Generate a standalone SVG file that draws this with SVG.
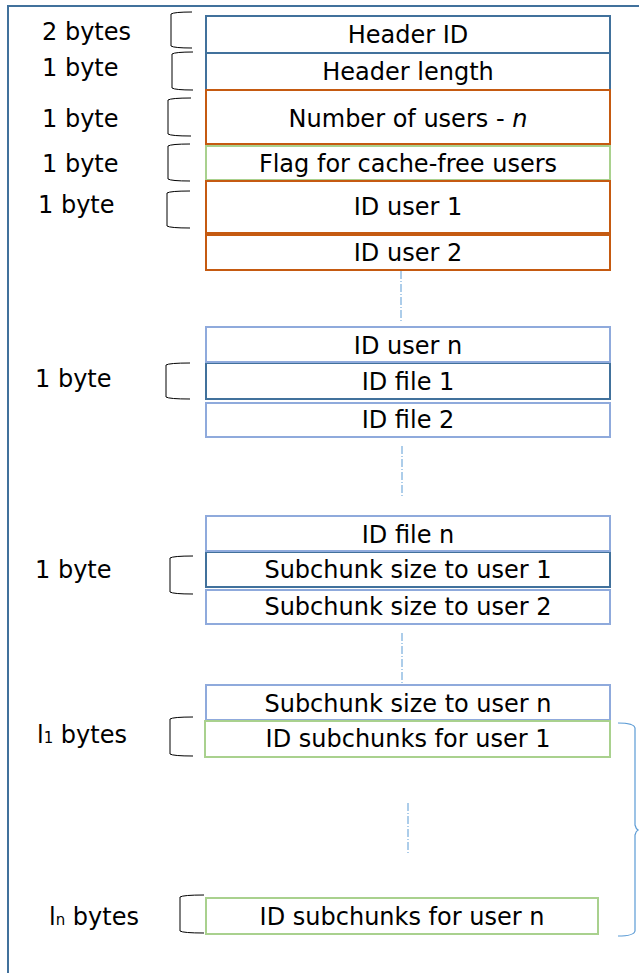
<svg xmlns="http://www.w3.org/2000/svg" width="639" height="973" viewBox="0 0 639 973">
<style>
text{font-family:"DejaVu Sans","Liberation Sans",sans-serif;font-size:24px;fill:#000}
.c{text-anchor:middle}
.box{fill:#fff;stroke-width:2}
.dk{stroke:#41719C}
.or{stroke:#C55A11}
.gr{stroke:#A9D18E}
.lb{stroke:#8FAADC}
.br{fill:none;stroke:#000;stroke-width:1}
.dd{fill:none;stroke:#5B9BD5;stroke-width:1;stroke-dasharray:8 2 1 2}
</style>
<rect x="8" y="6" width="640" height="980" fill="#fff" stroke="#41719C" stroke-width="2"/>
<g id="connectors">
<line class="dd" x1="401" y1="271" x2="401" y2="323"/>
<line class="dd" x1="402" y1="446" x2="402" y2="496"/>
<line class="dd" x1="402" y1="633" x2="402" y2="684"/>
<line class="dd" x1="408" y1="803" x2="408" y2="853"/>
<path d="M618,723 Q634,723 635,728 L635,825 Q636,829 638,830 Q636,831 635,835 L635,931 Q634,936 618,936" fill="none" stroke="#5B9BD5" stroke-width="1.2"/>
</g>
<g id="brackets">
<path class="br" d="M192,12 Q174,12 171,14 L171,46 Q174,48 192,48"/>
<path class="br" d="M193,52 Q175,52 172,54 L172,88 Q175,90 193,90"/>
<path class="br" d="M191,98 Q171,98 168,100 L168,134 Q171,136 191,136"/>
<path class="br" d="M190,144 Q171,144 168,146 L168,179 Q171,181 190,181"/>
<path class="br" d="M190,191 Q170,191 167,193 L167,226 Q170,228 190,228"/>
<path class="br" d="M190,363 Q169,363 166,365 L166,397 Q169,399 190,399"/>
<path class="br" d="M193,556 Q173,556 170,558 L170,592 Q173,594 193,594"/>
<path class="br" d="M193,717 Q173,717 170,719 L170,754 Q173,756 193,756"/>
<path class="br" d="M204,895 Q183,895 180,897 L180,931 Q183,933 204,933"/>
</g>
<g id="labels">
<text x="42" y="40">2 bytes</text>
<text x="42" y="76">1 byte</text>
<text x="42" y="127">1 byte</text>
<text x="42" y="172">1 byte</text>
<text x="38" y="213">1 byte</text>
<text x="35" y="387">1 byte</text>
<text x="35" y="578">1 byte</text>
<text x="37" y="743">l<tspan font-size="15">1</tspan> bytes</text>
<text x="49" y="925">l<tspan font-size="15">n</tspan> bytes</text>
</g>
<g id="header-id"><rect class="box dk" x="206" y="16" width="404" height="37"/><text class="c" x="408" y="43">Header ID</text></g>
<g id="header-length"><rect class="box dk" x="206" y="53" width="404" height="37"/><text class="c" x="408" y="80">Header length</text></g>
<g id="number-of-users"><rect class="box or" x="206" y="90" width="404" height="54"/><text class="c" x="408" y="127">Number of users - <tspan font-style="italic">n</tspan></text></g>
<g id="flag"><rect class="box gr" x="206" y="146" width="404" height="34"/><text class="c" x="408" y="172">Flag for cache-free users</text></g>
<g id="id-user-1"><rect class="box or" x="206" y="181" width="404" height="52"/><text class="c" x="408" y="215">ID user 1</text></g>
<g id="id-user-2"><rect class="box or" x="206" y="235" width="404" height="35"/><text class="c" x="408" y="261">ID user 2</text></g>
<g id="id-file-1"><rect class="box dk" x="206" y="363" width="404" height="36"/><text class="c" x="408" y="390">ID file 1</text></g>
<g id="id-user-n"><rect class="box lb" x="206" y="327" width="404" height="35"/><text class="c" x="408" y="354">ID user n</text></g>
<g id="id-file-2"><rect class="box lb" x="206" y="403" width="404" height="34"/><text class="c" x="408" y="428">ID file 2</text></g>
<g id="subchunk-size-1"><rect class="box dk" x="206" y="552" width="404" height="35"/><text class="c" x="408" y="578">Subchunk size to user 1</text></g>
<g id="id-file-n"><rect class="box lb" x="206" y="516" width="404" height="35"/><text class="c" x="408" y="543">ID file n</text></g>
<g id="subchunk-size-2"><rect class="box lb" x="206" y="590" width="404" height="34"/><text class="c" x="408" y="615">Subchunk size to user 2</text></g>
<g id="subchunk-size-n"><rect class="box lb" x="206" y="685" width="404" height="35"/><text class="c" x="408" y="712">Subchunk size to user n</text></g>
<g id="id-subchunks-1"><rect class="box gr" x="205" y="721" width="405" height="36"/><text class="c" x="408" y="747">ID subchunks for user 1</text></g>
<g id="id-subchunks-n"><rect class="box gr" x="206" y="898" width="392" height="36"/><text class="c" x="402" y="925">ID subchunks for user n</text></g>
</svg>
